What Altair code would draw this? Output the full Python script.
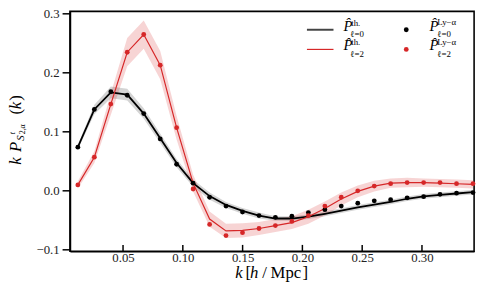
import altair as alt
import pandas as pd

# ---- data ----
k = [0.0122, 0.0260, 0.0398, 0.0535, 0.0673, 0.0811, 0.0948, 0.1086, 0.1224,
     0.1361, 0.1499, 0.1637, 0.1774, 0.1912, 0.2050, 0.2188, 0.2325, 0.2463,
     0.2601, 0.2738, 0.2876, 0.3014, 0.3151, 0.3289, 0.3427]

p0_th = [0.073, 0.137, 0.166, 0.162, 0.130, 0.088, 0.046, 0.012, -0.010,
         -0.025, -0.035, -0.043, -0.048, -0.048, -0.045, -0.040, -0.0345,
         -0.029, -0.0245, -0.020, -0.0145, -0.0106, -0.0078, -0.0056, -0.0034]
p0_err = [0.004, 0.008, 0.010, 0.010, 0.009, 0.008, 0.007, 0.006, 0.006,
          0.005, 0.005, 0.005, 0.004, 0.004, 0.004, 0.004, 0.004, 0.004,
          0.004, 0.004, 0.004, 0.004, 0.004, 0.004, 0.004]
p2_th = [0.009, 0.056, 0.146, 0.234, 0.264, 0.212, 0.106, 0.012, -0.049,
         -0.069, -0.068, -0.065, -0.060, -0.055, -0.045, -0.031, -0.015,
         -0.002, 0.007, 0.012, 0.013, 0.013, 0.012, 0.011, 0.010]
p2_err = [0.006, 0.010, 0.018, 0.024, 0.024, 0.024, 0.020, 0.014, 0.013,
          0.012, 0.012, 0.011, 0.011, 0.011, 0.012, 0.012, 0.011, 0.010,
          0.009, 0.008, 0.008, 0.007, 0.007, 0.007, 0.007]

p0_data = [0.073, 0.137, 0.167, 0.161, 0.130, 0.087, 0.044, 0.012, -0.012,
           -0.027, -0.037, -0.043, -0.046, -0.044, -0.038, -0.033, -0.027,
           -0.022, -0.018, -0.016, -0.013, -0.011, -0.007, -0.005, -0.004]
p2_data = [0.009, 0.056, 0.146, 0.234, 0.264, 0.212, 0.106, 0.002, -0.058,
           -0.077, -0.072, -0.065, -0.060, -0.053, -0.043, -0.027, -0.012,
           -0.001, 0.007, 0.011, 0.013, 0.013, 0.013, 0.011, 0.011]

x_ticks = [0.05, 0.10, 0.15, 0.20, 0.25, 0.30]
y_ticks = [-0.1, 0.0, 0.1, 0.2, 0.3]

RED = "#d62728"
FONT = "Liberation Serif"
W, H = 411, 244

df = pd.DataFrame({
    "k": k,
    "p0": p0_th, "p0lo": [a - e for a, e in zip(p0_th, p0_err)],
    "p0hi": [a + e for a, e in zip(p0_th, p0_err)],
    "p2": p2_th, "p2lo": [a - e for a, e in zip(p2_th, p2_err)],
    "p2hi": [a + e for a, e in zip(p2_th, p2_err)],
    "d0": p0_data, "d2": p2_data,
})
tick_df = pd.DataFrame({"k": x_ticks})
one = pd.DataFrame({"a": [0]})

xs = alt.Scale(domain=[0.0056, 0.3436], nice=False, zero=False)
ys = alt.Scale(domain=[-0.1036, 0.3033], nice=False, zero=False)

X_AX = alt.Axis(values=x_ticks, format=".2f", ticks=False,
                labelPadding=0, title=None, grid=False)
X = alt.X("k:Q", scale=xs, axis=X_AX)
Y_AX = alt.Axis(values=y_ticks, format=".1f", tickSize=8, tickWidth=1.5,
                labelPadding=3, title=None, grid=False)

base = alt.Chart(df)

band0 = base.mark_area(color="black", opacity=0.17).encode(
    x=X, y=alt.Y("p0lo:Q", scale=ys, axis=Y_AX), y2="p0hi:Q")
band2 = base.mark_area(color=RED, opacity=0.2).encode(
    x=X, y=alt.Y("p2lo:Q", scale=ys, axis=Y_AX), y2="p2hi:Q")
line0 = base.mark_line(color="black", strokeWidth=1.8).encode(
    x=X, y=alt.Y("p0:Q", scale=ys, axis=Y_AX))
line2 = base.mark_line(color=RED, strokeWidth=1.2).encode(
    x=X, y=alt.Y("p2:Q", scale=ys, axis=Y_AX))
pts0 = base.mark_circle(color="black", size=24, opacity=1).encode(
    x=X, y=alt.Y("d0:Q", scale=ys, axis=Y_AX))
pts2 = base.mark_circle(color=RED, size=24, opacity=1).encode(
    x=X, y=alt.Y("d2:Q", scale=ys, axis=Y_AX))

inward_ticks = alt.Chart(tick_df).mark_rule(color="black", strokeWidth=1.5).encode(
    x=X, y=alt.value(H - 6.5), y2=alt.value(H))


def txt(s, x, y, size, italic=False, angle=0):
    return alt.Chart(one).mark_text(
        text=s, fontSize=size, font=FONT, color="black",
        fontStyle="italic" if italic else "normal",
        angle=angle, align="left", baseline="alphabetic",
    ).encode(x=alt.value(x), y=alt.value(y))


def lrule(x1, x2, y, color, w):
    return alt.Chart(one).mark_rule(color=color, strokeWidth=w).encode(
        x=alt.value(x1), x2=alt.value(x2), y=alt.value(y))


def ldot(x, y, color):
    return alt.Chart(one).mark_circle(color=color, size=24, opacity=1).encode(
        x=alt.value(x), y=alt.value(y))


ann = []
# legend
for row, (lab, col) in enumerate([("\u2113=0", "#444444"), ("\u2113=2", RED)]):
    dy = 20 * row
    ann.append(lrule(241, 268, 18.7 + dy, col, 2.0 if row == 0 else 1.2))
    ann.append(txt("P\u0302", 278.3, 19.5 + dy, 15, italic=True))
    ann.append(txt("th.", 286, 14.5 + dy, 9))
    ann.append(txt(lab, 285, 26.2 + dy, 9))
    ann.append(ldot(342, 18.7 + dy, "black" if row == 0 else RED))
    ann.append(txt("P\u0302", 365.7, 19.5 + dy, 15, italic=True))
    ann.append(txt("Ly\u2212\u03b1", 373.5, 13.8 + dy, 9))
    ann.append(txt(lab, 373.5, 26.2 + dy, 9))

# x-axis title: k [h/Mpc]
TY = 271.5
ann += [
    txt("k", 168, TY, 17, italic=True),
    txt("[", 178.5, TY, 17),
    txt("h", 183, TY, 17, italic=True),
    txt("/", 195.5, TY, 17),
    txt("Mpc", 204, TY, 17),
    txt("]", 236.5, TY, 17),
]

# y-axis title: k P_{S^t_{2,alpha}}(k)
ann += [
    txt("k", -50, 156, 17, italic=True, angle=270),
    txt("P", -50, 143, 17, italic=True, angle=270),
    txt("S", -47, 131.5, 11, italic=True, angle=270),
    txt("t", -55.5, 125, 8, italic=True, angle=270),
    txt("2,\u03b1", -45.5, 125, 8, angle=270),
    txt("(", -50, 105, 17, angle=270),
    txt("k", -50, 99.5, 17, italic=True, angle=270),
    txt(")", -50, 91, 17, angle=270),
]

chart = alt.layer(
    band0, band2, line0, line2, pts0, pts2, inward_ticks, *ann
).properties(
    width=W, height=H,
    autosize=alt.AutoSizeParams(type="none"),
    padding={"left": 63, "top": 1, "right": 6, "bottom": 40},
).configure_view(
    stroke="black", strokeWidth=1.6
).configure_axis(
    domainColor="black", domainWidth=1.6, tickColor="black",
    labelFont=FONT, labelFontSize=13, labelColor="#222222",
)

chart.save("out.html", embed_options={"renderer": "svg", "actions": False})
